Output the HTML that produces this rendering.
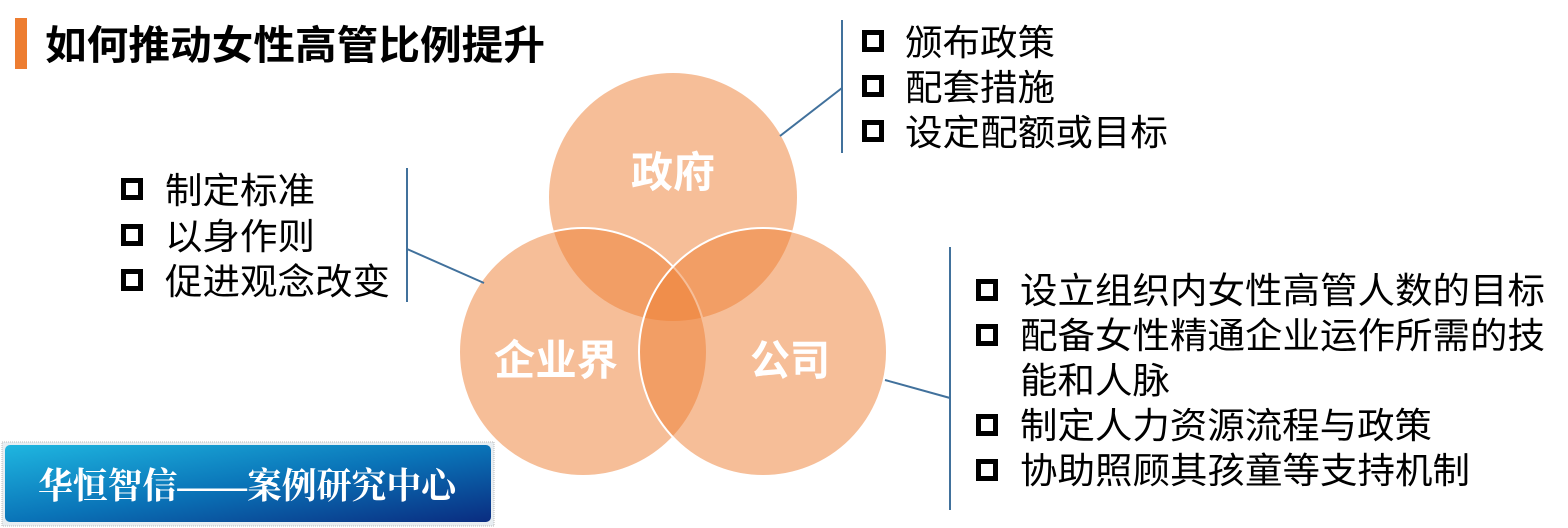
<!DOCTYPE html>
<html><head><meta charset="utf-8"><style>
html,body{margin:0;padding:0;background:#fff;}
svg{display:block;}
.t{font-family:"Liberation Sans","Noto Sans CJK SC",sans-serif;font-size:36px;fill:#000;}
.l{font-family:"Liberation Sans","Noto Sans CJK SC",sans-serif;font-size:42px;font-weight:bold;fill:#fff;}
</style></head><body>
<svg width="1568" height="528" viewBox="0 0 1568 528" xmlns="http://www.w3.org/2000/svg">
<defs>
<linearGradient id="g" x1="0" y1="0" x2="1" y2="1">
<stop offset="0" stop-color="#1fb6e0"/><stop offset="0.5" stop-color="#0a74b8"/><stop offset="1" stop-color="#0a2c80"/>
</linearGradient>
</defs>
<rect x="15" y="18" width="12" height="51" fill="#ED7D31"/>
<text x="45" y="59" style="font-family:'Liberation Sans','Noto Sans CJK SC',sans-serif;font-size:40px;font-weight:bold" textLength="500" lengthAdjust="spacingAndGlyphs">如何推动女性高管比例提升</text>

<g fill="#ED7D31" fill-opacity="0.5">
<circle cx="673" cy="197" r="124"/>
<circle cx="583" cy="352" r="124" stroke="#fff" stroke-width="2" stroke-opacity="1"/>
<circle cx="763" cy="352" r="124" stroke="#fff" stroke-width="2" stroke-opacity="1"/>
</g>
<text class="l" x="673" y="187" text-anchor="middle" textLength="84" lengthAdjust="spacingAndGlyphs">政府</text>
<text class="l" x="556" y="375" text-anchor="middle" textLength="124" lengthAdjust="spacingAndGlyphs">企业界</text>
<text class="l" x="790" y="375" text-anchor="middle" textLength="80" lengthAdjust="spacingAndGlyphs">公司</text>

<g stroke="#41719C" stroke-width="2" fill="none">
<line x1="842" y1="20" x2="842" y2="153"/>
<line x1="780" y1="136" x2="842" y2="88"/>
<line x1="407" y1="168" x2="407" y2="302"/>
<line x1="407" y1="249" x2="484" y2="283"/>
<line x1="950" y1="247" x2="950" y2="510"/>
<line x1="885" y1="380" x2="950" y2="398"/>
</g>

<g fill="none" stroke="#000" stroke-width="5">
<rect x="864.5" y="32.5" width="17" height="17"/>
<rect x="864.5" y="77.5" width="17" height="17"/>
<rect x="864.5" y="122.5" width="17" height="17"/>
<rect x="123.5" y="180.5" width="17" height="17"/>
<rect x="123.5" y="226.5" width="17" height="17"/>
<rect x="123.5" y="271.5" width="17" height="17"/>
<rect x="978.5" y="281.5" width="17" height="17"/>
<rect x="978.5" y="326.5" width="17" height="17"/>
<rect x="978.5" y="416.5" width="17" height="17"/>
<rect x="978.5" y="461.5" width="17" height="17"/>
</g>

<text class="t" x="905" y="55" textLength="150" lengthAdjust="spacingAndGlyphs">颁布政策</text>
<text class="t" x="905" y="100" textLength="150" lengthAdjust="spacingAndGlyphs">配套措施</text>
<text class="t" x="905" y="145" textLength="263" lengthAdjust="spacingAndGlyphs">设定配额或目标</text>

<text class="t" x="165" y="203" textLength="150" lengthAdjust="spacingAndGlyphs">制定标准</text>
<text class="t" x="165" y="249" textLength="150" lengthAdjust="spacingAndGlyphs">以身作则</text>
<text class="t" x="165" y="294" textLength="225" lengthAdjust="spacingAndGlyphs">促进观念改变</text>

<text class="t" x="1020" y="303" textLength="525" lengthAdjust="spacingAndGlyphs">设立组织内女性高管人数的目标</text>
<text class="t" x="1020" y="348" textLength="525" lengthAdjust="spacingAndGlyphs">配备女性精通企业运作所需的技</text>
<text class="t" x="1020" y="393" textLength="150" lengthAdjust="spacingAndGlyphs">能和人脉</text>
<text class="t" x="1020" y="438" textLength="412" lengthAdjust="spacingAndGlyphs">制定人力资源流程与政策</text>
<text class="t" x="1020" y="483" textLength="450" lengthAdjust="spacingAndGlyphs">协助照顾其孩童等支持机制</text>

<rect x="2" y="442" width="492" height="84" fill="#e8eef2" stroke="#bbb" stroke-dasharray="1 1"/>
<rect x="5" y="445" width="486" height="77" rx="5" fill="url(#g)"/>
<text x="38" y="498" style="font-family:'Liberation Serif','Noto Serif CJK SC',serif;font-size:36px;font-weight:bold;fill:#fff" textLength="418" lengthAdjust="spacingAndGlyphs">华恒智信——案例研究中心</text>
</svg>
</body></html>
